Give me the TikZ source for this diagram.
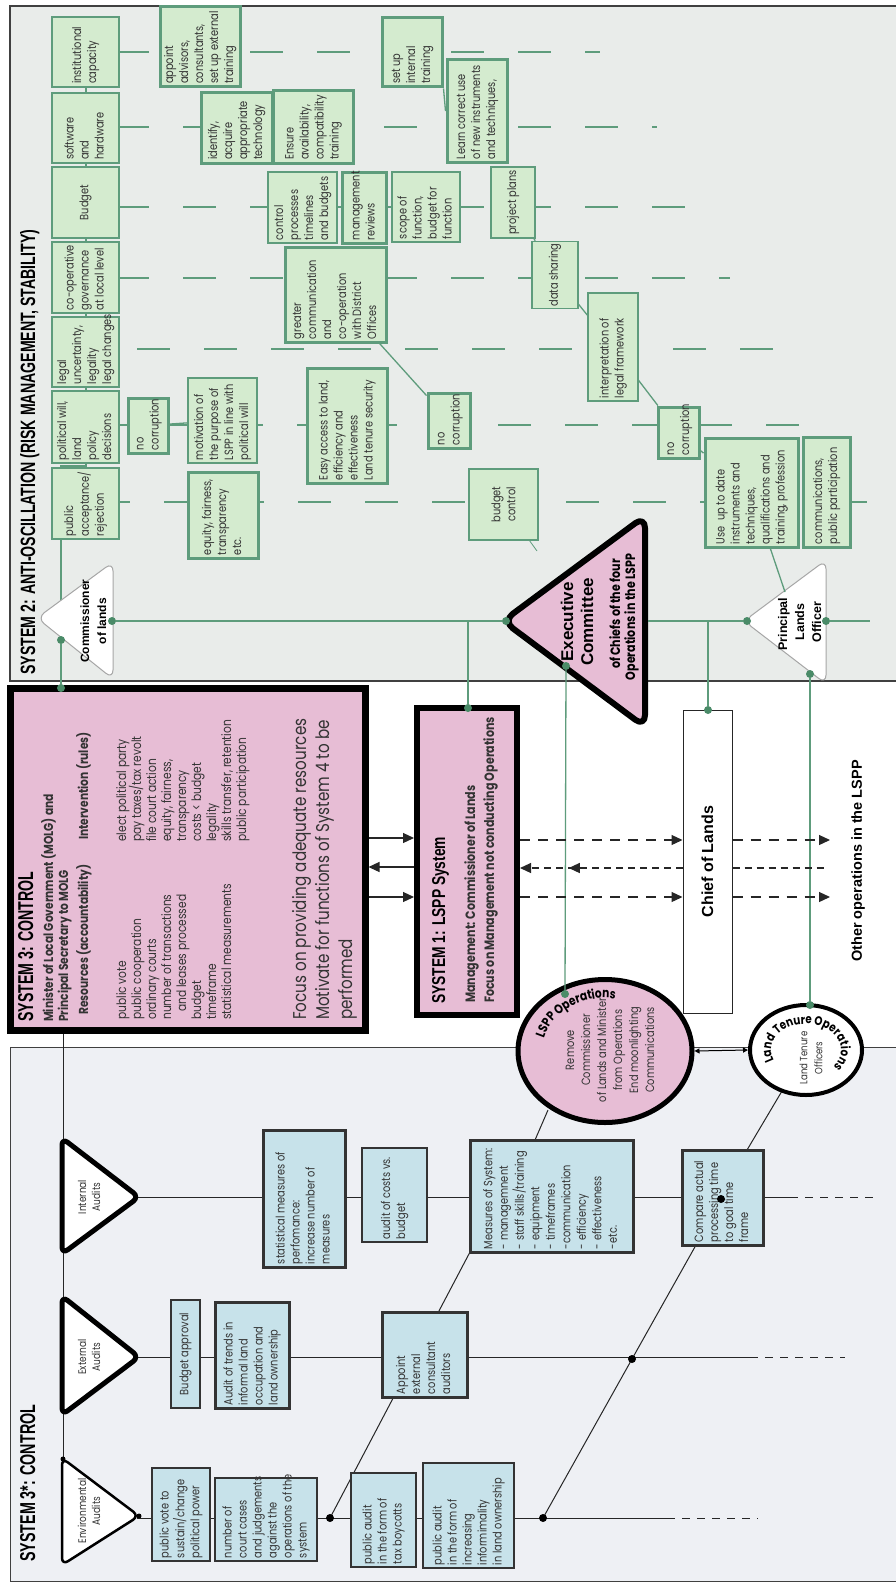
\documentclass[tikz,border=0pt]{standalone}
\usepackage{fontspec}
\usepackage{graphicx}
\usetikzlibrary{shapes.geometric,arrows.meta,decorations.text,decorations.markings}
\newfontfamily\bodyff[FakeStretch=0.82]{Poppins}
\newfontfamily\headff{Liberation Sans}
\definecolor{sysbg}{HTML}{E9ECEA}
\definecolor{gfill}{HTML}{D4EBCF}
\definecolor{gline}{HTML}{5E9C7C}
\definecolor{gdotc}{HTML}{4A8B68}
\definecolor{pinkc}{HTML}{E7BDD5}
\definecolor{bfill}{HTML}{C7E2EA}
\definecolor{lowbg}{HTML}{EEF0F4}
\definecolor{ink}{HTML}{333333}

% box from image corner (x1,y1) to (x2,y2), text running upwards, centred
\newcommand\boxat[7]{%
  \pgfmathsetmacro\bxW{#6-#4}%
  \pgfmathsetmacro\bxH{#5-#3}%
  \pgfmathsetmacro\bxX{(#3+#5)/2}%
  \pgfmathsetmacro\bxY{(#4+#6)/2}%
  \node[#1, minimum width=\bxW pt, minimum height=\bxH pt] (#2) at (\bxX,\bxY) {#7};}
% same box, lines set flush left
\newcommand\boxatL[7]{%
  \pgfmathsetmacro\bxW{#6-#4}%
  \pgfmathsetmacro\bxH{#5-#3}%
  \pgfmathsetmacro\bxX{(#3+#5)/2}%
  \pgfmathsetmacro\bxY{(#4+#6)/2}%
  \pgfmathsetmacro\bxT{#6-#4-6}%
  \node[#1, minimum width=\bxW pt, minimum height=\bxH pt] (#2) at (\bxX,\bxY)
    {\makebox[\bxT pt][l]{\begin{tabular}{@{}l@{}}#7\end{tabular}}};}

\begin{document}
\begin{tikzpicture}[x=1pt, y=-1pt,
  rot/.style={rotate=90},
  txt/.style={rot, inner sep=0pt, text=ink},
  bodyf/.style={font=\bodyff\fontsize{12}{15}\selectfont},
  gbox/.style={rot, draw=gline, fill=gfill, line width=1.2pt, inner sep=2pt, align=left, text=ink, bodyf},
  gboxT/.style={gbox, line width=3pt},
  bbox/.style={rot, draw=black!80, fill=bfill, line width=1.2pt, inner sep=2pt, align=left, text=ink, bodyf},
  bboxT/.style={bbox, line width=3pt},
  pbox/.style={rot, draw=black, fill=pinkc, inner sep=0pt},
  gln/.style={draw=gline, line width=1.3pt},
  gdash/.style={gln, dash pattern=on 33pt off 34pt},
  bln/.style={draw=black!85, line width=1pt},
  bdash/.style={bln, dash pattern=on 8pt off 7pt},
  gdot/.style={circle, fill=gdotc, inner sep=0pt, minimum size=8pt},
  bdot/.style={circle, fill=black, inner sep=0pt, minimum size=8pt},
  sdot/.style={circle, fill=black, inner sep=0pt, minimum size=5pt},
  tip/.style={-{Triangle[length=11pt,width=10pt]}},
  arr/.style={draw=black!85, line width=1.2pt, tip},
  darr/.style={arr, dash pattern=on 10pt off 8pt},
  tri/.style={fill=white, draw=black, line width=5pt, rounded corners=7pt, line join=round},
  wtri/.style={fill=white, draw=black!35, line width=1pt, rounded corners=9pt},
  boldb/.style={font=\bodyff\bfseries\fontsize{13.5}{15}\selectfont},
  list/.style={txt, anchor=base west, font=\bodyff\fontsize{13}{15}\selectfont},
  hbold/.style={font=\headff\bfseries\fontsize{12}{14}\selectfont}
]
\useasboundingbox (0,0) rectangle (895,1584);

% ---------------- panels
\fill[white] (0,0) rectangle (895,1584);
\draw[fill=sysbg, draw=black!75, line width=1.6pt] (10,6) rectangle (905,681);
\draw[fill=lowbg, draw=black!75, line width=1pt] (10,1047) rectangle (905,1581);

% ---------------- System 2 guide lines
\foreach \yy/\xs/\xe in {52/116/600,127/116/657,207/116/688,278/116/730,349/70/777,425/96/800,502/97/872}
  \draw[gdash] (\xs,\yy) -- (\xe,\yy);
\draw[gln] (86,20) -- (86,466) -- (61,466) -- (61,640);

% ---------------- System 3* lines
\coordinate (rA0) at (137,1197); \coordinate (rA1) at (790,1197); \coordinate (rA2) at (875,1197);
\coordinate (rB0) at (137,1357); \coordinate (rB1) at (750,1357); \coordinate (rB2) at (845,1357);
\coordinate (rC0) at (137,1518); \coordinate (rC1) at (667,1518); \coordinate (rC2) at (758,1518);
\draw[bln] (rA0) -- (rA1); \draw[bdash] (rA1) -- (rA2);
\draw[bln] (rB0) -- (rB1); \draw[bdash] (rB1) -- (rB2);
\draw[bln] (rC0) -- (rC1); \draw[bdash] (rC1) -- (rC2);
\coordinate (sTop) at (63,1030); \coordinate (sBot) at (63,1460);
\draw[bln] (sTop) -- (sBot);
\coordinate (k1) at (330,1518); \coordinate (meaBL) at (470,1252);
\draw[bln] (k1) -- (meaBL);
\coordinate (k2) at (543,1518); \coordinate (k3) at (632,1359); \coordinate (cmpIn) at (696,1245);
\draw[bln] (k2) -- (k3) -- (cmpIn);
\coordinate (meaTop) at (535,1140); \coordinate (lsppB) at (548,1110);
\coordinate (cmpTop) at (747,1150); \coordinate (ltB) at (782,1091);
\draw[bln] (meaTop) -- (lsppB);
\draw[bln] (cmpTop) -- (ltB);

% ---------------- System 2 boxes
\boxatL{gbox}{inst}{52}{17}{119}{87}{institutional\\capacity}
\boxatL{gbox}{soft}{52}{93}{119}{163}{software\\and\\hardware}
\boxat{gbox, align=center}{budg}{52}{167}{119}{238}{Budget}
\boxatL{gbox}{coop}{52}{242}{119}{313}{co-operative\\governance\\at local level}
\boxatL{gbox}{legal}{52}{317}{119}{387}{legal\\uncertainty,\\legality\\legal changes}
\boxatL{gbox}{polw}{52}{391}{119}{463}{political will,\\land\\policy\\decisions}
\boxatL{gbox}{pubacc}{52}{468}{119}{539}{public\\acceptance/\\rejection}

\boxatL{gboxT}{appoint}{160}{7}{240}{87}{appoint\\advisors,\\consultants,\\set up external\\training}
\boxatL{gboxT}{ident}{201}{93}{272}{163}{identify,\\acquire\\appropriate\\technology}
\boxatL{gboxT}{ensure}{273}{91}{353}{163}{Ensure\\availability,\\compatibility\\training}
\boxatL{gbox}{control}{268}{172}{337}{243}{control\\processes\\timelines\\and budgets}
\boxatL{gboxT}{greater}{285}{247}{386}{342}{greater\\communication\\and\\co-operation\\with District\\Offices}
\boxatL{gboxT}{setup}{382}{18}{442}{87}{set up\\internal\\training}
\boxatL{gboxT}{learn}{447}{60}{507}{162}{Learn correct use\\of new instruments\\and techniques,}
\boxatL{gboxT}{mgmt}{342}{172}{386}{243}{management\\reviews}
\boxatL{gbox}{scope}{392}{172}{460}{242}{scope of\\function,\\budget for\\function}
\boxat{gbox, align=center}{project}{491}{167}{535}{238}{project plans}
\boxat{gbox, align=center}{datash}{532}{242}{578}{308}{data sharing}
\boxatL{gbox}{interp}{588}{293}{638}{401}{interpretation of\\legal framework}
\boxatL{gboxT}{easy}{307}{368}{387}{483}{Easy access to land,\\efficiency and\\effectiveness\\Land tenure security}
\boxatL{gboxT}{nocA}{128}{398}{168}{453}{no\\corruption}
\boxatL{gbox}{motiv}{188}{378}{257}{463}{motivation of\\the purpose of\\LSPP in line with\\political will}
\boxatL{gboxT}{nocB}{428}{393}{470}{448}{no\\corruption}
\boxat{gbox, align=center}{budgetc}{469}{469}{538}{540}{budget\\control}
\boxatL{gboxT}{equity}{188}{472}{258}{558}{equity, fairness,\\transparency\\etc.}
\boxatL{gboxT}{nocC}{658}{407}{699}{458}{no\\corruption}
\boxatL{gboxT}{useup}{705}{438}{798}{547}{Use\ \ up to date\\instruments and\\techniques,\\qualifications and\\training, profession}
\boxatL{gboxT}{comms}{803}{437}{850}{547}{communications,\\public participation}

% ---------------- triangles of System 2
\draw[wtri] (37,618) -- (113,562) -- (113,679) -- cycle;
\draw[fill=pinkc, draw=black, line width=6pt, rounded corners=12pt, line join=round] (503,621) -- (645,516) -- (645,727) -- cycle;
\draw[wtri] (744,621) -- (826,560) -- (826,684) -- cycle;

% ---------------- System 3, System 1, Chief of Lands
\boxat{pbox, line width=7pt}{sys3}{10}{688}{365}{1030}{}
\boxat{pbox, line width=6pt}{sys1}{417}{708}{517}{1015}{}
\boxat{rot, draw=black!85, fill=white, line width=1pt, font=\headff\bfseries\fontsize{16}{18}\selectfont}{chief}{683}{710}{732}{1013}{Chief of Lands}

% ---------------- operations
\node[ellipse, draw=black, line width=5pt, fill=pinkc, minimum width=174pt, minimum height=143pt, inner sep=0pt] (lspp) at (605,1051) {};
\node[ellipse, draw=black, line width=4pt, fill=white, minimum width=112pt, minimum height=90pt, inner sep=0pt] (ltop) at (806,1050) {};

% ---------------- System 3* triangles and boxes
\draw[tri] (62,1138) -- (62,1254) -- (139,1197) -- cycle;
\draw[tri] (62,1296) -- (62,1415) -- (139,1357) -- cycle;
\draw[tri, line width=2.5pt] (62,1458) -- (62,1565) -- (139,1516) -- cycle;

\boxatL{bbox}{pvote}{152}{1468}{210}{1561}{public vote to\\sustain/change\\political power}
\boxatL{bbox}{court}{215}{1478}{317}{1561}{number of\\court cases\\and judgements\\against the\\operations of the\\system}
\boxatL{bbox}{tax}{351}{1473}{416}{1567}{public audit\\in the form of\\tax boycotts}
\boxatL{bbox}{informal}{423}{1463}{514}{1568}{public audit\\in the form of\\increasing\\informimality\\in land ownership}
\boxat{bbox, align=center}{bapp}{171}{1300}{200}{1408}{Budget approval}
\boxatL{bboxT}{trends}{215}{1302}{289}{1408}{Audit of trends in\\informal land\\occupation and\\land ownership}
\boxatL{bboxT}{appext}{382}{1312}{467}{1397}{Appoint\\external\\consultant\\auditors}
\boxatL{bboxT}{stat}{263}{1130}{345}{1267}{statistical measures of\\perfomance:\\increase number of\\measures}
\boxatL{bbox}{auditc}{362}{1148}{427}{1242}{audit of costs vs.\\budget}
\boxatL{bboxT, font=\bodyff\fontsize{12}{15.5}\selectfont}{measures}{470}{1140}{633}{1252}{Measures of System:\\- managemnent\\- staff skills/training\\- equipment\\- timeframes\\-communication\\- efficiency\\- effectiveness\\-etc.}
\boxatL{bboxT}{compare}{682}{1150}{763}{1245}{Compare actual\\processing time\\to goal time\\frame}

% ---------------- titles
\node[txt, anchor=base west, text=black] (s2t) at (35,675) {\resizebox{445pt}{15pt}{\headff\bfseries SYSTEM 2: ANTI-OSCILLATION (RISK MANAGEMENT, STABILITY)}};
\node[txt, anchor=base west, text=black] (s3t) at (33,1022) {\resizebox{150pt}{15pt}{\headff\bfseries SYSTEM 3: CONTROL}};
\node[txt, anchor=base west, text=black] (s3st) at (35,1562) {\resizebox{157pt}{15pt}{\headff\bfseries SYSTEM 3*: CONTROL}};
\node[txt, anchor=base west, text=black] (s1t) at (445,1004) {\resizebox{167pt}{13pt}{\headff\bfseries SYSTEM 1: LSPP System}};

% ---------------- System 3 contents
\node[txt, anchor=base west, font=\bodyff\bfseries\fontsize{13}{15}\selectfont] (s3a) at (53,1022) {Minister of Local Government (MOLG) and};
\node[txt, anchor=base west, font=\bodyff\bfseries\fontsize{13}{15}\selectfont] (s3b) at (68,1022) {Principal Secretary to MOLG};
\node[txt, anchor=base west, font=\bodyff\bfseries\fontsize{13}{15}\selectfont] (s3c) at (88,1015) {Resources (accountability)};
\node[txt, anchor=base west, font=\bodyff\bfseries\fontsize{13}{15}\selectfont] (s3d) at (88,840) {Intervention (rules)};
\foreach \s [count=\i from 0] in {public vote, public cooperation, ordinary courts, number of transactions, {\hspace{8pt}and leases processed}, budget, timeframe, statistical measurements}
  \node[list] (res\i) at ({126+15*\i},1020) {\s};
\foreach \s [count=\i from 0] in {elect political party, pay taxes/tax revolt, file court action, {equity, fairness,}, transparency, costs < budget, legality, {skills transfer, retention}, public participation}
  \node[list] (rul\i) at ({126+15*\i},842) {\s};
\node[txt, anchor=base west, font=\bodyff\fontsize{18.5}{22}\selectfont] (foc1) at (306,1020) {Focus on providing adequate resources};
\node[txt, anchor=base west, font=\bodyff\fontsize{18.5}{22}\selectfont] (foc2) at (329,1020) {Motivate for functions of System 4 to be};
\node[txt, anchor=base west, font=\bodyff\fontsize{18.5}{22}\selectfont] (foc3) at (352,1020) {performed};

% ---------------- System 1 contents
\node[txt, anchor=base west, boldb] (s1a) at (475,1003) {Management: Commissioner of Lands};
\node[txt, anchor=base west, boldb] (s1b) at (494,1003) {Focus on Management not conducting Operations};

% ---------------- triangle labels
\node[txt, anchor=base, text=black, hbold] (comA) at (89,621) {Commissioner};
\node[txt, anchor=base, text=black, hbold] (comB) at (106,621) {of lands};
\node[txt, anchor=base, text=black, font=\headff\bfseries\fontsize{17}{20}\selectfont] (exA) at (573,622) {Executive};
\node[txt, anchor=base, text=black, font=\headff\bfseries\fontsize{17}{20}\selectfont] (exB) at (593,622) {Committee};
\node[txt, anchor=base, text=black, boldb] (exC) at (620,614) {of Chiefs of the four};
\node[txt, anchor=base, text=black, boldb] (exD) at (635,617) {Operations in the LSPP};
\node[txt, anchor=base, text=black, font=\headff\bfseries\fontsize{12.5}{14}\selectfont] (plA) at (787,624) {Principal};
\node[txt, anchor=base, text=black, font=\headff\bfseries\fontsize{12.5}{14}\selectfont] (plB) at (804,622) {Lands};
\node[txt, anchor=base, text=black, font=\headff\bfseries\fontsize{12.5}{14}\selectfont] (plC) at (821,622) {Officer};
\foreach \nm/\yy/\la in {int/1197/Internal, ext/1357/External, env/1511/Environmental}{
  \node[txt, anchor=base, font=\bodyff\fontsize{11}{14}\selectfont] (\nm A) at (86,\yy) {\la};
  \node[txt, anchor=base, font=\bodyff\fontsize{11}{14}\selectfont] (\nm B) at (100,\yy) {Audits};
}

% ---------------- operations labels
\node[rot, align=center, text=ink, font=\bodyff\fontsize{12}{16}\selectfont] (lsppT) at (610,1050) {Remove\\Commissioner\\of Lands and Minister\\from Operations\\End moonlighting\\Communications};
\node[rot, align=center, text=ink, font=\bodyff\fontsize{10.5}{15}\selectfont] (ltopT) at (811,1058) {Land Tenure\\Officers};
\path[decorate, decoration={text along path, text align=center,
  text={|\bodyff\bfseries\fontsize{13}{13}\selectfont|LSPP Operations}}]
  plot[domain=0:130, samples=27] ({605+63*cos(190-\x)}, {1051-53*sin(190-\x)});
\path[decorate, decoration={text along path, text align=center,
  text={|\bodyff\bfseries\fontsize{12.5}{12.5}\selectfont|Land Tenure Operations}}]
  plot[domain=0:245, samples=50] ({806+35*cos(205-\x)}, {1050-26*sin(205-\x)});

% ---------------- other operations
\node[txt, text=black, font=\headff\bfseries\fontsize{14.5}{17}\selectfont] (others) at (858,861) {Other operations in the LSPP};

% ---------------- dots
\node[gdot] (gA) at (61,640) {};
\node[gdot] (gB) at (61,688) {};
\node[gdot] (gC) at (112,621) {};
\node[gdot] (gD) at (506,621) {};
\node[gdot] (gE) at (468,708) {};
\node[gdot] (gF) at (566,666) {};
\node[gdot] (gG) at (708,710) {};
\node[gdot] (gH) at (747,621) {};
\node[gdot] (gI) at (826,621) {};
\node[gdot] (gJ) at (810,674) {};
\node[gdot] (gK) at (810,1005) {};
\node[gdot] (gL) at (565,994) {};
\coordinate (jA) at (468,621);
\coordinate (jB) at (708,621);
\coordinate (exR) at (648,621);
\coordinate (endR) at (870,621);
\coordinate (ploT) at (785,592);
\coordinate (bcE) at (537,551);

\node[bdot] (kd1) at (k1) {};
\node[bdot] (kd2) at (k2) {};
\node[bdot] (kd3) at (k3) {};
\node[bdot] (kd4) at (721,1199) {};
\node[sdot] (kd5) at (sTop) {};
\node[sdot] (kd6) at (139,1516) {};
\node[sdot] (kd7) at (63,1459) {};

% ---------------- green connectors
\draw[gln] (gA) -- (gB);
\draw[gln] (gC) -- (gD);
\draw[gln] (jA) -- (gE);
\draw[gln] (exR) -- (gH);
\draw[gln] (jB) -- (gG);
\draw[gln] (gI) -- (endR);
\draw[gln] (gF) -- (gL);
\draw[gln] (gJ) -- (gK);
\draw[gln] (greater) -- (nocB);
\draw[gln] (setup.south west) -- (learn.north);
\draw[gln] (project) -- (datash);
\draw[gln] (datash) -- (interp);
\draw[gln] (interp) -- (nocC);
\draw[gln] (nocC) -- (useup);
\draw[gln] (useup) -- (ploT);
\draw[gln] (nocA) -- (motiv);
\draw[gln, line width=0.8pt] (budgetc) -- (bcE);

% ---------------- System 3 / System 1 / Chief arrows
\draw[arr] (sys3.south |- 0,838) -- (sys1.north |- 0,838);
\draw[arr] (sys1.north |- 0,867) -- (sys3.south |- 0,867);
\draw[arr] (sys3.south |- 0,897) -- (sys1.north |- 0,897);
\draw[darr] (sys1.south |- 0,840) -- (chief.north |- 0,840);
\draw[arr, dash pattern=on 7pt off 5pt, postaction={decorate},
  decoration={markings, mark=at position 0.70 with {\arrow{Triangle[length=11pt,width=10pt]}}}]
  (chief.north |- 0,868) -- (sys1.south |- 0,868);
\draw[darr] (sys1.south |- 0,897) -- (chief.north |- 0,897);
\coordinate (oA) at (830,840);
\coordinate (oB) at (826,868);
\coordinate (oC) at (830,897);
\draw[darr] (chief.south |- 0,840) -- (oA);
\draw[bln, line width=1.2pt, dash pattern=on 7pt off 5pt] (chief.south |- 0,868) -- (oB);
\draw[darr] (chief.south |- 0,897) -- (oC);

% ---------------- between operations
\draw[black, line width=1pt, {Triangle[length=5pt,width=5pt]}-{Triangle[length=5pt,width=5pt]}] (lspp.east) -- (ltop.west);

\end{tikzpicture}
\end{document}
